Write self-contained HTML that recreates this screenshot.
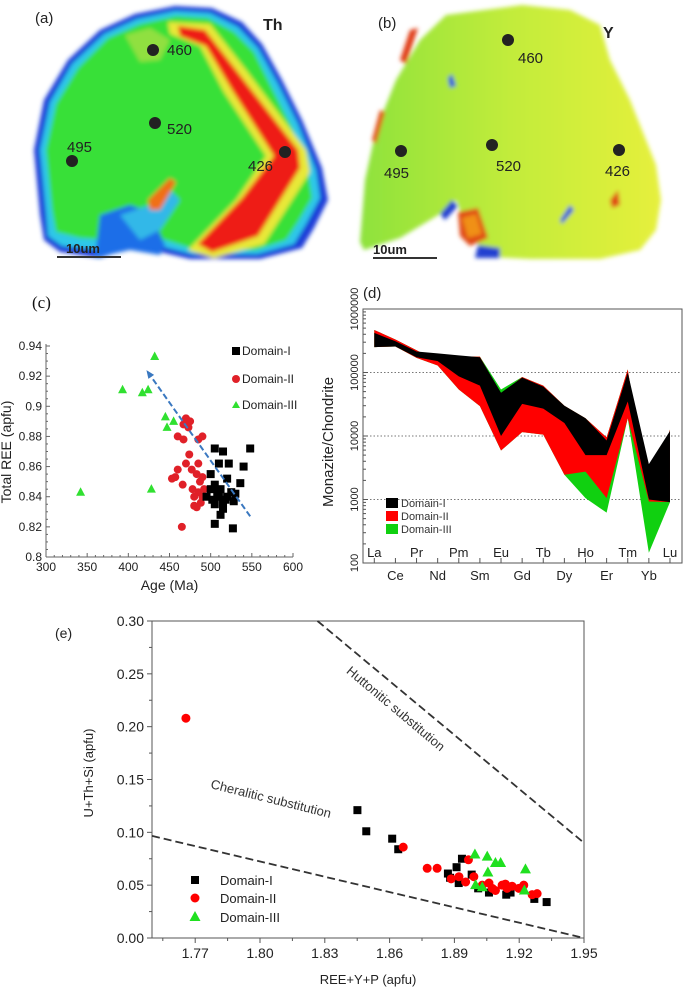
<!DOCTYPE html>
<html><head><meta charset="utf-8"><style>
html,body{margin:0;padding:0;background:#fff;}
svg{display:block;font-family:"Liberation Sans",sans-serif;}
</style></head><body>
<svg id="fig" width="685" height="992" viewBox="0 0 685 992">
<defs>
<filter id="bl" x="-5%" y="-5%" width="110%" height="110%"><feGaussianBlur stdDeviation="2.2"/></filter>
<linearGradient id="ygr" x1="0" y1="0" x2="1" y2="0"><stop offset="0" stop-color="#8ee23c"/><stop offset="0.5" stop-color="#c2ec3a"/><stop offset="1" stop-color="#e6f03c"/></linearGradient>
</defs>
<!-- Panel a -->
<g>
<g filter="url(#bl)">
<polygon fill="#1a3cd8" points="40,215 34,150 44,100 68,60 100,30 135,14 175,6 212,8 242,22 262,44 282,80 302,120 322,168 328,200 314,228 302,248 260,259 190,259 160,252 130,248 100,258 60,252 44,240"/>
<polygon fill="#2ec8e8" points="46,212 40,150 50,102 72,64 104,34 137,19 175,11 210,13 238,27 258,48 278,84 298,124 316,170 320,198 306,224 294,244 258,254 192,254 160,246 130,240 100,250 62,246 48,236"/>
<polygon fill="#38e038" points="52,210 46,150 56,104 78,68 108,38 140,24 176,16 208,18 234,32 254,52 272,88 292,128 308,172 312,198 298,222 286,240 256,250 196,250 165,240 140,235 110,240 80,238 56,232"/>
<polygon fill="#1e6ee8" points="95,258 100,215 130,205 150,212 165,245 160,255 130,250"/>
<polygon fill="#30b8e8" points="120,215 150,205 170,190 180,200 160,230 140,240"/>
<polygon fill="#e8e838" points="168,22 210,24 246,70 306,150 310,172 264,244 214,258 188,250 236,200 266,156 224,92 200,46 170,34"/>
<polygon fill="#ee1c18" points="178,26 205,30 240,75 298,150 300,168 258,236 212,252 198,244 242,198 274,156 232,90 206,46 180,36"/>
<polygon fill="#f07018" points="148,200 170,178 176,182 160,210 150,210"/>
<polygon fill="#90e040" points="125,35 150,28 170,40 160,60 140,62"/>
</g>
<text x="35" y="23" font-size="15" fill="#222">(a)</text>
<text x="263" y="30" font-size="16" font-weight="bold" fill="#222">Th</text>
<circle cx="153" cy="50" r="6" fill="#222"/>
<circle cx="155" cy="123" r="6" fill="#222"/>
<circle cx="72" cy="161" r="6" fill="#222"/>
<circle cx="285" cy="152" r="6" fill="#222"/>
<g font-size="15" fill="#222">
<text x="167" y="55">460</text>
<text x="167" y="134">520</text>
<text x="67" y="152">495</text>
<text x="248" y="171">426</text>
</g>
<line x1="57" y1="257" x2="121" y2="257" stroke="#333" stroke-width="2"/>
<text x="66" y="253" font-size="13" font-weight="bold" fill="#222">10um</text>
</g>
<!-- Panel b -->
<g>
<g filter="url(#bl)">
<polygon fill="url(#ygr)" points="360,242 365,180 376,130 396,80 420,40 446,15 500,8 522,5 570,10 600,25 610,60 630,100 642,130 656,165 661,200 656,230 640,250 600,259 530,259 490,257 470,236 456,200 440,214 400,238 364,250"/>
<polygon fill="#e04818" points="458,212 478,208 488,238 470,246 460,236"/>
<polygon fill="#f09018" points="462,218 476,214 482,234 468,238"/>
<polygon fill="#2040d0" points="440,214 452,200 458,206 445,220"/>
<polygon fill="#2040d0" points="478,245 500,248 500,258 475,258"/>
<polygon fill="#e03c18" points="400,60 410,30 418,28 406,64"/>
<polygon fill="#e05018" points="372,140 380,110 385,112 376,144"/>
<polygon fill="#2050e0" points="448,78 452,74 456,86 450,88"/>
<polygon fill="#e04818" points="610,200 618,190 620,205 612,208"/>
<polygon fill="#2050e0" points="560,220 570,205 574,210 562,224"/>
</g>
<text x="378" y="28" font-size="15" fill="#222">(b)</text>
<text x="603" y="38" font-size="16" font-weight="bold" fill="#222">Y</text>
<circle cx="508" cy="40" r="6" fill="#222"/>
<circle cx="492" cy="145" r="6" fill="#222"/>
<circle cx="401" cy="151" r="6" fill="#222"/>
<circle cx="619" cy="150" r="6" fill="#222"/>
<g font-size="15" fill="#222">
<text x="518" y="63">460</text>
<text x="496" y="171">520</text>
<text x="384" y="178">495</text>
<text x="605" y="176">426</text>
</g>
<line x1="373" y1="258" x2="437" y2="258" stroke="#333" stroke-width="2"/>
<text x="373" y="254" font-size="13" font-weight="bold" fill="#222">10um</text>
</g>
<g id="pc"></g>
<g id="pd"></g>
<g id="pe"></g>
</svg>
<script>
// ===== Panel (c) data =====
const cAgeTicks = [300,350,400,450,500,550,600];
const cReeTicks = [0.8,0.82,0.84,0.86,0.88,0.9,0.92,0.94];
const cD1Age = [505,515,548,510,522,540,500,520,505,536,500,512,525,530,502,510,518,528,505,515,512,505,527,520,508,515,495];
const cD1Ree = [0.872,0.870,0.872,0.862,0.862,0.860,0.855,0.852,0.848,0.849,0.845,0.845,0.843,0.842,0.838,0.840,0.838,0.837,0.835,0.832,0.828,0.822,0.819,0.840,0.843,0.836,0.840];
const cD2Age = [470,475,467,473,460,467,490,485,474,470,485,477,460,457,453,483,490,487,466,478,485,492,480,490,488,480,483,465];
const cD2Ree = [0.892,0.890,0.888,0.886,0.880,0.878,0.880,0.878,0.868,0.862,0.862,0.858,0.858,0.853,0.852,0.855,0.853,0.850,0.848,0.845,0.843,0.845,0.840,0.840,0.836,0.834,0.833,0.820];
const cD3Age = [432,393,417,424,445,455,447,342,428];
const cD3Ree = [0.933,0.911,0.909,0.911,0.893,0.890,0.886,0.843,0.845];
const cArrowAge = [548,422];
const cArrowRee = [0.827,0.924];
// ===== Panel (d) data =====
const dElements = ["La","Ce","Pr","Nd","Pm","Sm","Eu","Gd","Tb","Dy","Ho","Er","Tm","Yb","Lu"];
const dTicks = [100,1000,10000,100000,1000000];
const dTickLabels = ["100","1000","10000","100000","1000000"];
const dD1Max = [420000,310000,214000,200000,186000,174000,48000,83000,60000,30000,19000,8500,100000,3600,12000];
const dD1Min = [251000,257000,174000,151000,87000,62000,10000,32000,27000,16000,5000,5000,35000,1000,910];
const dD2Max = [468000,331000,224000,151000,178000,178000,45000,85000,62000,30000,19000,9500,112000,1000,12600];
const dD2Min = [251000,257000,170000,129000,54000,29500,5900,11500,10500,2450,2750,1050,19000,930,910];
const dD3Max = [468000,331000,224000,151000,178000,178000,54000,85000,62000,30000,19000,9500,112000,1000,12600];
const dD3Min = [251000,257000,170000,129000,54000,29500,5900,11500,10500,2450,1050,620,19000,145,910];
// ===== Panel (e) data =====
const eXTicks = [1.77,1.80,1.83,1.86,1.89,1.92,1.95];
const eXTickLabels = ["1.77","1.80","1.83","1.86","1.89","1.92","1.95"];
const eYTicks = [0,0.05,0.10,0.15,0.20,0.25,0.30];
const eYTickLabels = ["0.00","0.05","0.10","0.15","0.20","0.25","0.30"];
const eD1X = [1.8451,1.8492,1.8612,1.864,1.8935,1.891,1.887,1.898,1.9327,1.927,1.914,1.906,1.901,1.916,1.892,1.888];
const eD1Y = [0.121,0.101,0.094,0.084,0.075,0.067,0.061,0.060,0.034,0.037,0.041,0.043,0.047,0.043,0.052,0.057];
const eD2X = [1.7657,1.8663,1.8774,1.882,1.8965,1.8885,1.8921,1.8952,1.899,1.9029,1.906,1.909,1.9121,1.9144,1.9167,1.9198,1.9221,1.926,1.9283,1.9075,1.9136];
const eD2Y = [0.208,0.086,0.066,0.066,0.074,0.056,0.058,0.053,0.058,0.050,0.052,0.045,0.050,0.047,0.049,0.047,0.050,0.041,0.042,0.047,0.051];
const eD3X = [1.8995,1.9052,1.909,1.9114,1.9055,1.9229,1.8998,1.9029,1.9224];
const eD3Y = [0.079,0.077,0.071,0.071,0.062,0.065,0.050,0.048,0.045];
const eCheralX = [1.75,1.95];
const eCheralY = [0.0966,0.0];
const eHuttonX = [1.8266,1.95];
const eHuttonY = [0.30,0.09];

const NS="http://www.w3.org/2000/svg";
function mk(parent,tag,attrs,txt){const e=document.createElementNS(NS,tag);for(const k in attrs)e.setAttribute(k,attrs[k]);if(txt!==undefined)e.textContent=txt;parent.appendChild(e);return e;}

// ---------- Panel c ----------
(function(){
const g=document.getElementById('pc');
const X0=46,X1=293,Y0=557,Y1=346;
const sx=v=>X0+(v-300)/300*(X1-X0);
const sy=v=>Y0-(v-0.8)/0.14*(Y0-Y1);
let t;
t=mk(g,'text',{x:32,y:308,'font-size':17,'font-family':'Liberation Serif,serif',fill:'#111'},'(c)');

let a=mk(g,'line',{x1:X0,y1:Y1-2,x2:X0,y2:Y0,stroke:'#666','stroke-width':1});

a=mk(g,'line',{x1:X0,y1:Y0,x2:X1,y2:Y0,stroke:'#666','stroke-width':1});

for(let v=300;v<=600;v+=10){mk(g,'line',{x1:sx(v),y1:Y0,x2:sx(v),y2:Y0-(v%50===0?4:2),stroke:'#666'});}
for(let v=0.8;v<=0.9401;v+=0.005){mk(g,'line',{x1:X0,y1:sy(v),x2:X0+(Math.abs(v*50-Math.round(v*50))<0.01?4:2),y2:sy(v),stroke:'#666'});}
cAgeTicks.forEach(v=>{const e=mk(g,'text',{x:sx(v),y:Y0+14,'font-size':12,'text-anchor':'middle',fill:'#222'},String(v));
});
cReeTicks.forEach(v=>{const e=mk(g,'text',{x:X0-4,y:sy(v)+4,'font-size':12,'text-anchor':'end',fill:'#222'},String(+v.toFixed(2)));
});
t=mk(g,'text',{x:(X0+X1)/2,y:590,'font-size':14,'text-anchor':'middle',fill:'#222'},'Age (Ma)');

t=mk(g,'text',{x:0,y:0,'font-size':14,'text-anchor':'middle',fill:'#222',transform:'translate(11,452) rotate(-90)'},'Total REE (apfu)');

cD2Age.forEach((v,i)=>{const e=mk(g,'circle',{cx:sx(v),cy:sy(cD2Ree[i]),r:4,fill:'#e02028'});
});
cD1Age.forEach((v,i)=>{const e=mk(g,'rect',{x:sx(v)-4,y:sy(cD1Ree[i])-4,width:8,height:8,fill:'#000'});
});
cD3Age.forEach((v,i)=>{const x=sx(v),y=sy(cD3Ree[i]);const e=mk(g,'polygon',{points:`${x},${y-5} ${x-4.5},${y+3.5} ${x+4.5},${y+3.5}`,fill:'#30e030'});
});
const ax1=sx(cArrowAge[0]),ay1=sy(cArrowRee[0]),ax2=sx(cArrowAge[1]),ay2=sy(cArrowRee[1]);
const ar=mk(g,'line',{x1:ax1,y1:ay1,x2:ax2,y2:ay2,stroke:'#3a78c0','stroke-width':2,'stroke-dasharray':'6,3'});

const ang=Math.atan2(ay2-ay1,ax2-ax1),L=9;
const ah=mk(g,'polygon',{points:`${ax2},${ay2} ${ax2-L*Math.cos(ang-0.4)},${ay2-L*Math.sin(ang-0.4)} ${ax2-L*Math.cos(ang+0.4)},${ay2-L*Math.sin(ang+0.4)}`,fill:'#3a78c0'});

const lg=[['Domain-I','sq','#000',351],['Domain-II','ci','#e02028',379],['Domain-III','tr','#30e030',405]];
lg.forEach(l=>{let m;
if(l[1]==='sq')m=mk(g,'rect',{x:232,y:l[3]-4,width:8,height:8,fill:l[2]});
else if(l[1]==='ci')m=mk(g,'circle',{cx:236,cy:l[3],r:4,fill:l[2]});
else m=mk(g,'polygon',{points:`236,${l[3]-4} 232,${l[3]+3} 240,${l[3]+3}`,fill:l[2]});

const e=mk(g,'text',{x:242,y:l[3]+4,'font-size':12,fill:'#222'},l[0]);
});
})();

// ---------- Panel d ----------
(function(){
const g=document.getElementById('pd');
const L=363,R=682,T=309,B=563;
const sy=v=>B-(Math.log10(v)-2)/4*(B-T);
const sx=i=>374.3+i*21.12;
let t=mk(g,'text',{x:363,y:298,'font-size':15,fill:'#222'},'(d)');

[1000,10000,100000].forEach(v=>{const e=mk(g,'line',{x1:L,y1:sy(v),x2:R,y2:sy(v),stroke:'#777','stroke-dasharray':'1.5,2'});
});
function band(mx,mn,col,name){let pts=mx.map((v,i)=>`${sx(i)},${sy(v)}`);for(let i=mn.length-1;i>=0;i--)pts.push(`${sx(i)},${sy(mn[i])}`);
const e=mk(g,'polygon',{points:pts.join(' '),fill:col});}
band(dD3Max,dD3Min,'#10d010','domain-iii-band');
band(dD2Max,dD2Min,'#ff0000','domain-ii-band');
band(dD1Max,dD1Min,'#000000','domain-i-band');
const fr=mk(g,'rect',{x:L,y:T,width:R-L,height:B-T,fill:'none',stroke:'#555','stroke-width':1});

for(let d=2;d<6;d++)for(let k=1;k<10;k++){const v=k*Math.pow(10,d);mk(g,'line',{x1:L,y1:sy(v),x2:L+(k===1?5:3),y2:sy(v),stroke:'#555'});}
dTicks.forEach((v,i)=>{const e=mk(g,'text',{x:0,y:0,'font-size':11,'text-anchor':'middle',fill:'#222',transform:`translate(358,${sy(v)}) rotate(-90)`},dTickLabels[i]);
});
dElements.forEach((el,i)=>{mk(g,'line',{x1:sx(i),y1:B,x2:sx(i),y2:B-5,stroke:'#555'});
const e=mk(g,'text',{x:sx(i),y:i%2===0?557:580,'font-size':13,'text-anchor':'middle',fill:'#222'},el);
});
t=mk(g,'text',{x:0,y:0,'font-size':15,'text-anchor':'middle',fill:'#222',transform:'translate(333,442) rotate(-90)'},'Monazite/Chondrite');

[['Domain-I','#000',503],['Domain-II','#ff0000',516],['Domain-III','#10d010',529]].forEach(l=>{
const m=mk(g,'rect',{x:386,y:l[2]-5,width:12,height:10,fill:l[1]});
const e=mk(g,'text',{x:401,y:l[2]+4,'font-size':11,fill:'#333'},l[0]);});
})();

// ---------- Panel e ----------
(function(){
const g=document.getElementById('pe');
const L=152,R=584,T=621,B=938;
const sx=v=>L+(v-1.75)/0.2*(R-L);
const sy=v=>B-v/0.3*(B-T);
let t=mk(g,'text',{x:55,y:638,'font-size':14,fill:'#222'},'(e)');

const fr=mk(g,'rect',{x:L,y:T,width:R-L,height:B-T,fill:'none',stroke:'#555','stroke-width':1});

for(let k=0;k<=12;k++){const v=k*0.025;mk(g,'line',{x1:L,y1:sy(v),x2:L-(k%2===0?5:3),y2:sy(v),stroke:'#555'});}
for(let k=0;k<=13;k++){const v=1.755+k*0.015;if(v>1.951)break;const maj=k%2===1;mk(g,'line',{x1:sx(v),y1:B,x2:sx(v),y2:B+(maj?5:3),stroke:'#555'});}
eYTicks.forEach((v,i)=>{const e=mk(g,'text',{x:L-8,y:sy(v)+5,'font-size':14,'text-anchor':'end',fill:'#222'},eYTickLabels[i]);
});
eXTicks.forEach((v,i)=>{const e=mk(g,'text',{x:sx(v),y:B+20,'font-size':14,'text-anchor':'middle',fill:'#222'},eXTickLabels[i]);
});
t=mk(g,'text',{x:368,y:984,'font-size':13,'text-anchor':'middle',fill:'#222'},'REE+Y+P (apfu)');

t=mk(g,'text',{x:0,y:0,'font-size':13,'text-anchor':'middle',fill:'#222',transform:'translate(93,773) rotate(-90)'},'U+Th+Si (apfu)');

let ln=mk(g,'line',{x1:sx(eCheralX[0]),y1:sy(eCheralY[0]),x2:sx(eCheralX[1]),y2:sy(eCheralY[1]),stroke:'#333','stroke-width':1.8,'stroke-dasharray':'8,4'});

ln=mk(g,'line',{x1:sx(eHuttonX[0]),y1:sy(eHuttonY[0]),x2:sx(eHuttonX[1]),y2:sy(eHuttonY[1]),stroke:'#333','stroke-width':1.8,'stroke-dasharray':'8,4'});

t=mk(g,'text',{x:0,y:0,'font-size':13,'text-anchor':'middle',fill:'#333',transform:'translate(270,803) rotate(14)'},'Cheralitic substitution');

t=mk(g,'text',{x:0,y:0,'font-size':13,'text-anchor':'middle',fill:'#333',transform:'translate(393,712) rotate(40)'},'Huttonitic substitution');

eD1X.forEach((v,i)=>{const e=mk(g,'rect',{x:sx(v)-4,y:sy(eD1Y[i])-4,width:8,height:8,fill:'#000'});
});
eD2X.forEach((v,i)=>{const e=mk(g,'circle',{cx:sx(v),cy:sy(eD2Y[i]),r:4.5,fill:'#ff0000'});
});
eD3X.forEach((v,i)=>{const x=sx(v),y=sy(eD3Y[i]);const e=mk(g,'polygon',{points:`${x},${y-6} ${x-5.5},${y+4} ${x+5.5},${y+4}`,fill:'#20e020'});
});
[['Domain-I','sq','#000',880],['Domain-II','ci','#ff0000',898],['Domain-III','tr','#20e020',917]].forEach(l=>{let m;
if(l[1]==='sq')m=mk(g,'rect',{x:191,y:l[3]-4,width:8,height:8,fill:l[2]});
else if(l[1]==='ci')m=mk(g,'circle',{cx:195,cy:l[3],r:4.5,fill:l[2]});
else m=mk(g,'polygon',{points:`195,${l[3]-6} 189.5,${l[3]+4} 200.5,${l[3]+4}`,fill:l[2]});

const e=mk(g,'text',{x:220,y:l[3]+5,'font-size':13,fill:'#222'},l[0]);
});
})();
</script>
</body></html>
